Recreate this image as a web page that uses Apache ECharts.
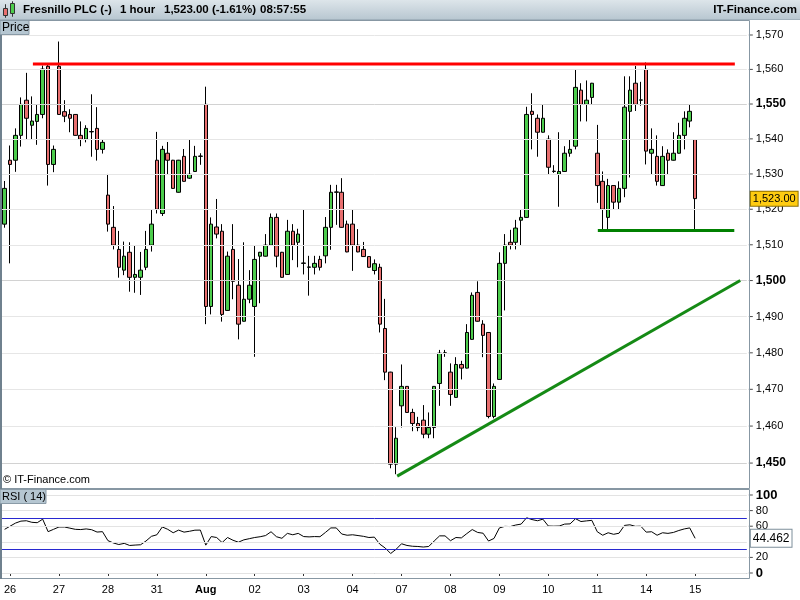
<!DOCTYPE html>
<html><head><meta charset="utf-8">
<script src="https://cdn.jsdelivr.net/npm/echarts@6/dist/echarts.min.js"></script>
<style>html,body{margin:0;padding:0;background:#fff}#c{width:800px;height:600px}</style>
</head><body><div id="c"></div>
<script>
// ---------- data ----------
const opens = [1515.8,1533.9,1533.9,1541.0,1551.1,1543.9,1545.0,1547.0,1560.9,1532.7,
1560.9,1547.8,1547.0,1547.0,1541.0,1539.9,1542.0,1543.0,1537.0,1524.0,
1514.9,1508.7,1502.9,1507.9,1500.9,1500.9,1503.7,1509.9,1533.9,1518.8,
1535.9,1533.9,1524.8,1535.0,1528.8,1530.7,1535.0,1549.9,1492.8,1515.0,
1513.8,1491.7,1508.7,1498.7,1488.7,1494.8,1492.8,1506.8,1506.8,1509.9,
1517.7,1507.9,1501.7,1513.8,1510.7,1504.8,1503.7,1503.7,1505.9,1506.9,
1514.9,1524.8,1524.8,1515.8,1515.8,1509.9,1508.7,1506.7,1502.8,1503.7,
1486.7,1474.7,1449.7,1465.5,1470.8,1463.7,1460.7,1461.6,1457.8,1459.6,
1471.6,1479.9,1474.7,1467.8,1476.8,1475.8,1483.7,1496.7,1487.9,1485.6,
1462.6,1472.7,1504.8,1510.7,1510.7,1516.9,1517.7,1547.9,1545.9,1541.9,
1539.9,1530.7,1529.9,1530.7,1535.9,1537.9,1554.0,1549.9,1551.9,1535.9,
1527.9,1517.7,1526.7,1522.0,1525.9,1547.9,1556.0,1551.1,1560.0,1535.9,
1535.0,1526.7,1535.9,1533.9,1535.9,1541.0,1545.1,1539.8];
const closes = [1525.9,1532.7,1541.0,1549.9,1545.9,1545.1,1547.0,1560.1,1532.7,1537.0,
1547.0,1546.5,1545.9,1541.0,1539.9,1543.0,1542.1,1537.0,1539.0,1515.8,
1509.9,1503.7,1506.8,1500.9,1501.7,1502.9,1508.7,1515.8,1520.0,1537.0,
1533.9,1525.9,1533.9,1527.9,1529.9,1535.0,1535.1,1492.8,1515.8,1513.0,
1490.6,1506.8,1499.8,1487.9,1494.8,1498.7,1505.9,1507.9,1509.9,1517.7,
1506.8,1500.9,1513.8,1509.9,1513.0,1504.9,1503.8,1504.8,1503.7,1514.9,
1524.8,1524.9,1514.9,1508.0,1509.9,1508.0,1506.7,1503.7,1504.7,1487.9,
1474.7,1449.7,1456.7,1470.8,1463.7,1460.7,1459.6,1457.8,1459.6,1470.8,
1479.9,1480.0,1468.6,1476.8,1475.8,1485.6,1495.9,1488.7,1484.8,1462.6,
1470.8,1504.8,1509.9,1509.9,1514.7,1517.7,1547.0,1547.0,1541.9,1545.9,
1531.9,1530.8,1530.7,1535.9,1537.0,1554.8,1549.9,1551.1,1556.0,1526.7,
1520.0,1526.7,1522.0,1525.9,1549.1,1554.0,1549.9,1551.2,1536.5,1537.0,
1527.9,1535.0,1533.9,1535.9,1541.0,1545.9,1547.9,1523.0];
const lows = [1514.8,1504.8,1530.6,1537.8,1539.7,1539.7,1538.3,1545.9,1526.7,1530.5,
1546.9,1544.8,1541.9,1540.9,1537.9,1539.0,1534.9,1533.8,1535.8,1513.7,
1508.7,1500.8,1501.5,1496.9,1496.6,1496.0,1502.9,1508.1,1518.8,1518.1,
1529.7,1525.8,1524.7,1527.8,1528.6,1530.6,1532.6,1487.9,1490.6,1511.8,
1488.6,1491.6,1494.8,1483.7,1488.6,1493.7,1478.9,1493.7,1506.7,1509.7,
1503.7,1500.8,1501.6,1505.7,1503.7,1501.7,1495.8,1501.7,1502.8,1504.8,
1508.6,1515.6,1514.8,1507.9,1502.7,1507.9,1506.6,1503.6,1501.7,1485.6,
1472.5,1448.6,1447.0,1459.6,1463.6,1458.6,1458.6,1456.7,1456.7,1456.7,
1465.5,1478.9,1465.5,1467.7,1472.7,1475.7,1483.6,1488.6,1478.8,1462.1,
1462.1,1472.6,1491.7,1508.7,1508.7,1509.8,1517.6,1537.0,1534.9,1541.8,
1529.9,1530.3,1520.7,1530.6,1534.9,1537.0,1545.0,1545.0,1549.9,1521.8,
1514.2,1514.2,1520.0,1520.0,1523.4,1529.0,1548.0,1549.5,1532.7,1529.9,
1526.7,1526.6,1529.9,1533.8,1535.8,1537.0,1543.3,1514.0];
const highs = [1528.0,1538.1,1543.0,1551.9,1559.0,1552.2,1550.0,1561.1,1561.5,1538.1,
1568.1,1551.1,1548.5,1547.1,1545.0,1543.9,1552.8,1549.1,1539.9,1530.0,
1520.9,1513.9,1510.9,1510.7,1509.9,1508.0,1513.9,1520.0,1542.0,1538.0,
1539.1,1534.0,1534.0,1537.1,1539.9,1538.0,1535.9,1555.0,1517.7,1522.9,
1515.8,1508.1,1515.8,1506.0,1510.7,1502.9,1509.9,1508.0,1513.0,1518.8,
1518.8,1508.0,1517.0,1515.8,1514.5,1520.0,1506.9,1506.9,1506.9,1517.8,
1526.9,1526.9,1528.8,1516.8,1520.0,1514.4,1510.8,1506.8,1505.9,1504.7,
1494.9,1474.8,1459.7,1476.8,1470.9,1464.7,1462.5,1465.7,1463.7,1470.9,
1480.8,1480.8,1477.1,1478.8,1477.8,1487.9,1496.7,1499.8,1489.0,1485.7,
1471.6,1507.9,1513.0,1514.2,1517.0,1520.0,1549.2,1553.1,1547.0,1550.0,
1541.0,1532.5,1541.9,1537.9,1539.9,1560.0,1556.0,1556.8,1556.1,1544.0,
1530.7,1528.6,1526.8,1527.9,1558.0,1558.0,1561.0,1556.4,1562.0,1543.0,
1541.0,1537.9,1537.0,1541.9,1544.6,1547.9,1549.9,1539.9];
const rsi = [56,60,64,66.5,67,65,64.5,69,53,56,
59,59,57.5,56,55.7,56.5,55.5,52.5,53,41.5,
38.5,36.5,38,35.3,35.8,36.2,41,47,49,59,
56,51.6,55,52.4,53.5,54.9,55,35.7,46.7,45.5,
39,45.5,42,39.5,42.5,44,45.5,46.5,48,52.9,
46.5,44.5,50.8,49,50.8,46.7,46.3,46.7,46.5,52,
57.8,57.8,50,48.4,49,48,47,45.5,46,37,
32,25,30.4,37.5,35.3,34.3,34,33.3,34,41,
47.6,47.6,41.4,45.5,45,50.5,55.7,52,51,41,
44.3,57.8,59.8,59.5,61.5,62.7,70.8,68.5,67,69,
60.2,60,60.2,62.7,63,69.6,66,66.8,67.5,52.9,
48.4,51.6,49.6,51,61,61.8,59.8,60,52.4,52.9,
48.4,51.6,50.8,52,54.5,56.5,57.8,44.462];
const dayStarts = [1,10,19,28,37,46,55,64,73,82,91,100,109,118,127];
const dayNames  = ['26','27','28','31','Aug','02','03','04','07','08','09','10','11','14','15'];
const priceTicks = [1450,1460,1470,1480,1490,1500,1510,1520,1530,1540,1550,1560,1570];
const boldPriceTicks = [1450,1500,1550];
const rsiTicks = [0,20,40,60,80,100];
const rsiBands = [30,70];
const lastPrice = 1523.00;
const lastRsi = 44.462;
const resistanceLine = [[5.2,1561.6],[134.3,1561.6]];
const supportLine = [[109.1,1514.0],[134.2,1514.0]];
const trendLine = [[72.2,1446.5],[135.3,1500.0]];
const slotCount = 137;

// ---------- chart ----------
const FONT = 'Liberation Sans, Arial, sans-serif';
const cats = Array.from({length: slotCount}, (_, i) => 'c' + i);
const candleData = opens.map((o, i) => [o, closes[i], lows[i], highs[i]]);
const fmt = v => v.toLocaleString('en-US');
const isDay = i => dayStarts.indexOf(i) >= 0;
const HIDDEN_LINE = {width: 0, color: 'rgba(0,0,0,0)'};
const tickRich = (size, weight) => ({
  t: {width: 4, height: 1, backgroundColor: '#4a4a4a'},
  v: {fontSize: size, fontWeight: weight, fontFamily: FONT, color: '#000', padding: [0, 0, 0, 3]}
});
const HFONT = 'bold 11.5px ' + FONT;

const GL = 1.9, GW = 744.9;
const chart = echarts.init(document.getElementById('c'), null, {renderer: 'canvas'});
chart.setOption({
  animation: false,
  backgroundColor: '#fff',
  textStyle: {fontFamily: FONT},
  grid: [
    {left: GL, top: 20, width: GW, height: 468},
    {left: GL, top: 490, width: GW, height: 88}
  ],
  xAxis: [
    {type: 'category', gridIndex: 0, data: cats, boundaryGap: true,
     axisLine: {show: false}, axisTick: {show: false}, axisLabel: {show: false}, splitLine: {show: false}},
    {type: 'category', gridIndex: 1, data: cats, boundaryGap: true,
     axisLine: {show: true, lineStyle: {color: '#7f8f9b', width: 1}},
     axisTick: {show: true, interval: (i) => isDay(i), alignWithLabel: true, length: 3, lineStyle: {color: '#333'}},
     axisLabel: {show: true, interval: (i) => isDay(i), margin: 6,
       formatter: (v, i) => { const k = dayStarts.indexOf(i); return k < 0 ? '' : (dayNames[k] === 'Aug' ? '{b|Aug}' : dayNames[k]); },
       color: '#000', fontSize: 11, fontFamily: FONT,
       rich: {b: {fontWeight: 'bold', fontSize: 11, fontFamily: FONT, color: '#000'}}},
     splitLine: {show: false}},
    {type: 'value', gridIndex: 0, min: -0.5, max: slotCount - 0.5, show: false}
  ],
  yAxis: [
    {type: 'log', logBase: 10, gridIndex: 0, min: 1443.3, max: 1574.38, position: 'right',
     axisLine: {show: false}, axisTick: {show: false}, axisLabel: {show: false}, splitLine: {show: false}},
    {type: 'value', gridIndex: 1, min: -6.41, max: 106.41, position: 'right',
     axisLine: {show: false}, axisTick: {show: false}, axisLabel: {show: false}, splitLine: {show: false}}
  ],
  series: [
    { // price gridlines + labels
      type: 'line', xAxisIndex: 0, yAxisIndex: 0, data: [], z: 1, silent: true,
      markLine: {silent: true, symbol: ['none', 'none'], animation: false,
        data: priceTicks.map(v => {
          const b = boldPriceTicks.indexOf(v) >= 0;
          return {yAxis: v,
            lineStyle: {color: b ? '#d2d2d2' : '#e6e6e6', width: 1, type: 'solid'},
            label: {show: true, position: 'end', distance: 2, formatter: '{t|}{v|' + fmt(v) + '}',
              rich: tickRich(b ? 12 : 11, b ? 'bold' : 'normal')}};
        })}
    },
    {
      type: 'candlestick', xAxisIndex: 0, yAxisIndex: 0, data: candleData, z: 3,
      barWidth: 4,
      itemStyle: {color: '#4ccc4c', color0: '#e86f6f', borderColor: '#000', borderColor0: '#000', borderColorDoji: '#000', borderWidth: 1},
      markLine: {silent: true, symbol: ['none', 'none'], animation: false, z: 8,
        data: [{yAxis: lastPrice, lineStyle: HIDDEN_LINE,
          label: {show: true, position: 'end', distance: 4, formatter: lastPrice.toLocaleString('en-US', {minimumFractionDigits: 2}),
            backgroundColor: '#ffcc11', borderColor: '#8a6d00', borderWidth: 1, padding: [2, 2, 1, 2],
            color: '#000', fontSize: 11, fontFamily: FONT}}]}
    },
    {type: 'line', xAxisIndex: 2, yAxisIndex: 0, data: resistanceLine, symbol: 'none', z: 5,
     lineStyle: {color: '#ff0000', width: 3}, silent: true},
    {type: 'line', xAxisIndex: 2, yAxisIndex: 0, data: supportLine, symbol: 'none', z: 5,
     lineStyle: {color: '#008000', width: 3}, silent: true},
    {type: 'line', xAxisIndex: 2, yAxisIndex: 0, data: trendLine, symbol: 'none', z: 5,
     lineStyle: {color: '#158a15', width: 3}, silent: true},
    { // RSI gridlines + labels + bands
      type: 'line', xAxisIndex: 1, yAxisIndex: 1, data: [], z: 1, silent: true,
      markLine: {silent: true, symbol: ['none', 'none'], animation: false,
        data: rsiTicks.map(v => {
          const b = (v === 0 || v === 100);
          return {yAxis: v, lineStyle: {color: '#e3e3e3', width: 1, type: 'solid'},
            label: {show: v !== 40, position: 'end', distance: 2, formatter: '{t|}{v|' + v + '}',
              rich: tickRich(b ? 13 : 11, b ? 'bold' : 'normal')}};
        }).concat(rsiBands.map(v => ({yAxis: v, lineStyle: {color: '#2828d0', width: 1, type: 'solid'}, label: {show: false}})))}
    },
    {
      type: 'line', xAxisIndex: 1, yAxisIndex: 1, data: rsi, symbol: 'none', z: 3, silent: true,
      lineStyle: {color: '#000', width: 1},
      markLine: {silent: true, symbol: ['none', 'none'], animation: false, z: 8,
        data: [{yAxis: lastRsi, lineStyle: HIDDEN_LINE,
          label: {show: true, position: 'end', distance: 4, formatter: String(lastRsi),
            backgroundColor: '#fff', borderColor: '#7d8e9a', borderWidth: 1, padding: [3, 2, 2, 2],
            color: '#000', fontSize: 12, fontFamily: FONT}}]}
    }
  ],
  graphic: [
    {type: 'rect', shape: {x: 0, y: 0, width: 800, height: 20}, z: 10,
     style: {fill: new echarts.graphic.LinearGradient(0, 0, 0, 1, [{offset: 0, color: '#dde5ea'}, {offset: 1, color: '#b7c6d0'}])}},
    {type: 'rect', shape: {x: 0, y: 19.5, width: 800, height: 0.5}, z: 10, style: {fill: '#8a9ba7'}},
    // icon
    {type: 'rect', shape: {x: 5.5, y: 4.5, width: 0, height: 13}, z: 11, style: {stroke: '#333', lineWidth: 1}},
    {type: 'rect', shape: {x: 3.5, y: 8.5, width: 4, height: 7}, z: 11, style: {fill: '#e86f6f', stroke: '#333', lineWidth: 1}},
    {type: 'rect', shape: {x: 12.5, y: 1.5, width: 0, height: 15}, z: 11, style: {stroke: '#333', lineWidth: 1}},
    {type: 'rect', shape: {x: 10.5, y: 3.5, width: 4, height: 10}, z: 11, style: {fill: '#4ccc4c', stroke: '#333', lineWidth: 1}},
    {type: 'text', x: 23, y: 10, z: 11, style: {text: 'Fresnillo PLC (-)', fill: '#000', font: HFONT, textVerticalAlign: 'middle'}},
    {type: 'text', x: 120, y: 10, z: 11, style: {text: '1 hour', fill: '#000', font: HFONT, textVerticalAlign: 'middle'}},
    {type: 'text', x: 164, y: 10, z: 11, style: {text: '1,523.00 (-1.61%)', fill: '#000', font: HFONT, textVerticalAlign: 'middle'}},
    {type: 'text', x: 260, y: 10, z: 11, style: {text: '08:57:55', fill: '#000', font: HFONT, textVerticalAlign: 'middle'}},
    {type: 'text', x: 797, y: 10, z: 11, style: {text: 'IT-Finance.com', fill: '#000', font: HFONT, textAlign: 'right', textVerticalAlign: 'middle'}},
    // main frame
    {type: 'rect', shape: {x: 0.5, y: 20.5, width: 749, height: 468}, z: 6, style: {fill: 'none', stroke: '#8797a3', lineWidth: 1}},
    {type: 'rect', shape: {x: 0, y: 20, width: 2, height: 470}, z: 6, style: {fill: '#6f818e'}},
    {type: 'rect', shape: {x: 0, y: 20.5, width: 29, height: 14}, z: 11, style: {fill: '#b5c6d1', stroke: '#8a9ba7', lineWidth: 1}},
    {type: 'text', x: 2, y: 28, z: 12, style: {text: 'Price', fill: '#000', font: '12px ' + FONT, textVerticalAlign: 'middle'}},
    {type: 'text', x: 3, y: 480, z: 12, style: {text: '\u00a9 IT-Finance.com', fill: '#000', font: '11px ' + FONT, textVerticalAlign: 'middle'}},
    // rsi frame
    {type: 'rect', shape: {x: 0.5, y: 489.5, width: 749, height: 89}, z: 6, style: {fill: 'none', stroke: '#8797a3', lineWidth: 1}},
    {type: 'rect', shape: {x: 0, y: 489, width: 2, height: 90}, z: 6, style: {fill: '#6f818e'}},
    {type: 'rect', shape: {x: 0, y: 489.5, width: 46, height: 14}, z: 11, style: {fill: '#b5c6d1', stroke: '#8a9ba7', lineWidth: 1}},
    {type: 'text', x: 2, y: 497, z: 12, style: {text: 'RSI ( 14)', fill: '#000', font: '11px ' + FONT, textVerticalAlign: 'middle'}}
  ]
});
</script></body></html>
